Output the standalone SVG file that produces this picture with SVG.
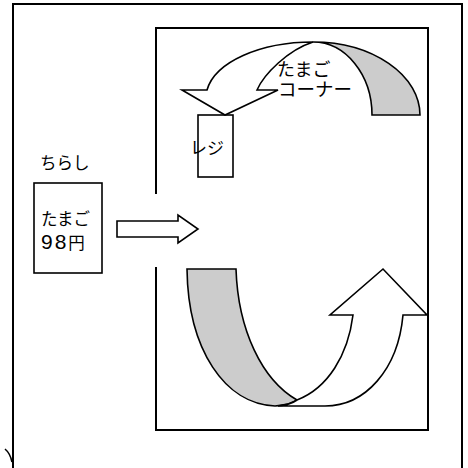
<svg xmlns="http://www.w3.org/2000/svg" width="468" height="468" viewBox="0 0 468 468">
<style>
.frame{fill:none;stroke:#000;stroke-width:2}
.box{fill:#fff;stroke:#000;stroke-width:1.6}
.arr{fill:#fff;stroke:#000;stroke-width:1.6;stroke-linejoin:miter}
.back{fill:#cccccc;stroke:#000;stroke-width:1.6}
.t{font-family:"Noto Sans CJK JP","Noto Sans",sans-serif;fill:#000}
.num{font-family:"Liberation Sans","Noto Sans CJK JP",sans-serif}
</style>
<rect width="468" height="468" fill="#fff"/>
<g id="frame">
<path class="frame" d="M13,468 V4 H462 V468"/>
<path d="M5,449 Q10,453 12,462" fill="none" stroke="#000" stroke-width="1.6"/>
</g>
<g id="store">
<path class="frame" d="M156,194 V28 H428 V430 H156 V267"/>
</g>
<g id="flyer">
<text class="t" x="40" y="169" font-size="16.5">ちらし</text>
<rect class="box" x="34" y="183" width="68" height="90"/>
<text class="t" font-size="16.5"><tspan x="41" y="225">たまご</tspan><tspan x="41" y="249"><tspan class="num" font-size="21" letter-spacing="2">98</tspan>円</tspan></text>
</g>
<g id="register">
<rect class="box" x="198" y="115" width="35" height="62"/>
<text class="t" x="190" y="154" font-size="17">レジ</text>
</g>
<g id="connectors">
<path id="top-arrow-back" class="back" d="M313,42 A107,73 0 0 1 420,115 L372,115 A59,73 0 0 0 313,42 Z"/>
<path id="top-arrow" class="arr" d="M207,90 C215,62 260,42 313,42 C288,50 264,74 257,90 L278,90 L225,115 L182,90 Z"/>
<path id="entry-arrow" class="arr" d="M117,221 H178 V215 L198,229 L178,243 V237 H117 Z"/>
<path id="bottom-arrow-back" class="back" d="M187,269 L236,269 C238,330 262,380 297,400 Q290,405 275,406 C225,404 188,350 187,269 Z"/>
<path id="bottom-arrow" class="arr" d="M278,406 L325,406 C365,406 398,370 403,315 L427,315 L383,269 L330,315 L353,315 C348,355 328,388 297,400 Q290,405 278,406 Z"/>
</g>
<g id="egg-corner">
<text class="t" font-size="18"><tspan x="277" y="76">たまご</tspan><tspan x="278" y="96" font-size="18.5">コーナー</tspan></text>
</g>
</svg>
